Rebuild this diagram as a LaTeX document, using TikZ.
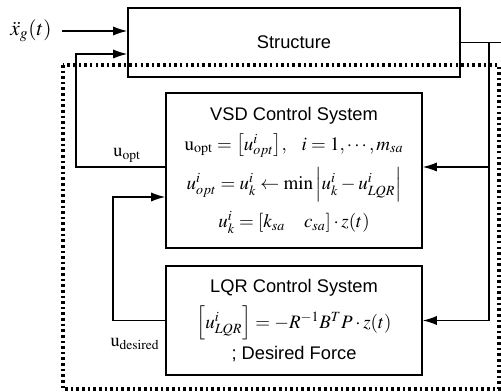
\documentclass[tikz,border=0pt]{standalone}
\usepackage{mathptmx}
\usepackage{fontspec}
\setmainfont{Liberation Sans}
\usetikzlibrary{arrows.meta}

\tikzset{
  blk/.style={draw, line width=1pt, align=center, inner sep=0pt},
  wire/.style={line width=1pt},
  arr/.style={wire, -{Latex[length=10pt,width=6.5pt]}},
  dotbox/.style={line width=2.2pt, dash pattern=on 1.8pt off 2.2pt}
}
\newcommand{\eqsize}{\fontsize{13.5}{16}\selectfont}

\begin{document}
\begin{tikzpicture}[x=0.025cm, y=-0.025cm, font=\fontsize{13}{15}\selectfont]
  \useasboundingbox (0,0) rectangle (501,392);

  % Helper coordinates
  \coordinate (edgeR) at (501,0);
  \coordinate (busX) at (489,0);
  \coordinate (leftX) at (76,0);
  \coordinate (fbX) at (113,0);
  \coordinate (inY) at (0,54);
  \coordinate (optY) at (0,167);
  \coordinate (fbY) at (0,197);

  % Controller boundary
  \draw[dotbox] (63,65) rectangle (499,389);

  % Blocks
  \node[blk, minimum width=8.3cm, minimum height=1.725cm] (str) at (294,42.5) {Structure};
  \node[blk, minimum width=6.4cm, minimum height=3.875cm] (vsd) at (294,170.5)
    {VSD Control System\\[6pt]
     \eqsize $\mathrm{u}_{\mathrm{opt}}=\left[u^{i}_{opt}\right]\!,\;\;\; i=1,\cdots,m_{sa}$\\[6pt]
     \eqsize $u^{i}_{opt}=u^{i}_{k}\leftarrow\min\left|u^{i}_{k}-u^{i}_{LQR}\right|$\\[6pt]
     \eqsize $u^{i}_{k}=\left[k_{sa}\quad c_{sa}\right]\cdot z(t)$};
  \node[blk, minimum width=6.4cm, minimum height=2.725cm] (lqr) at (294,320.5)
    {LQR Control System\\[6pt]
     \eqsize $\left[u^{i}_{LQR}\right]=-R^{-1}B^{T}P\cdot z(t)$\\[3pt]
     ; Desired Force};

  % Signal labels
  \node[outer sep=4pt] (xg) at (31,31) {\fontsize{15}{17}\selectfont$\ddot{x}_{g}(t)$};
  \node (uopt) at (127,155) {$\mathrm{u}_{\mathrm{opt}}$};
  \node (udes) at (135,344) {$\mathrm{u}_{\mathrm{desired}}$};

  % Connectors
  \draw[arr] (xg) -- (xg -| str.west);
  \draw[wire] (str.east) -- (str.east -| edgeR);
  \draw[arr] (str.east -| busX) |- (lqr.east);
  \draw[arr] (busX |- optY) -- (vsd.east |- optY);
  \draw[arr] (vsd.west |- optY) -| (leftX |- inY) -- (str.west |- inY);
  \draw[arr] (lqr.west) -| (fbX |- fbY) -- (vsd.west |- fbY);
\end{tikzpicture}
\end{document}
